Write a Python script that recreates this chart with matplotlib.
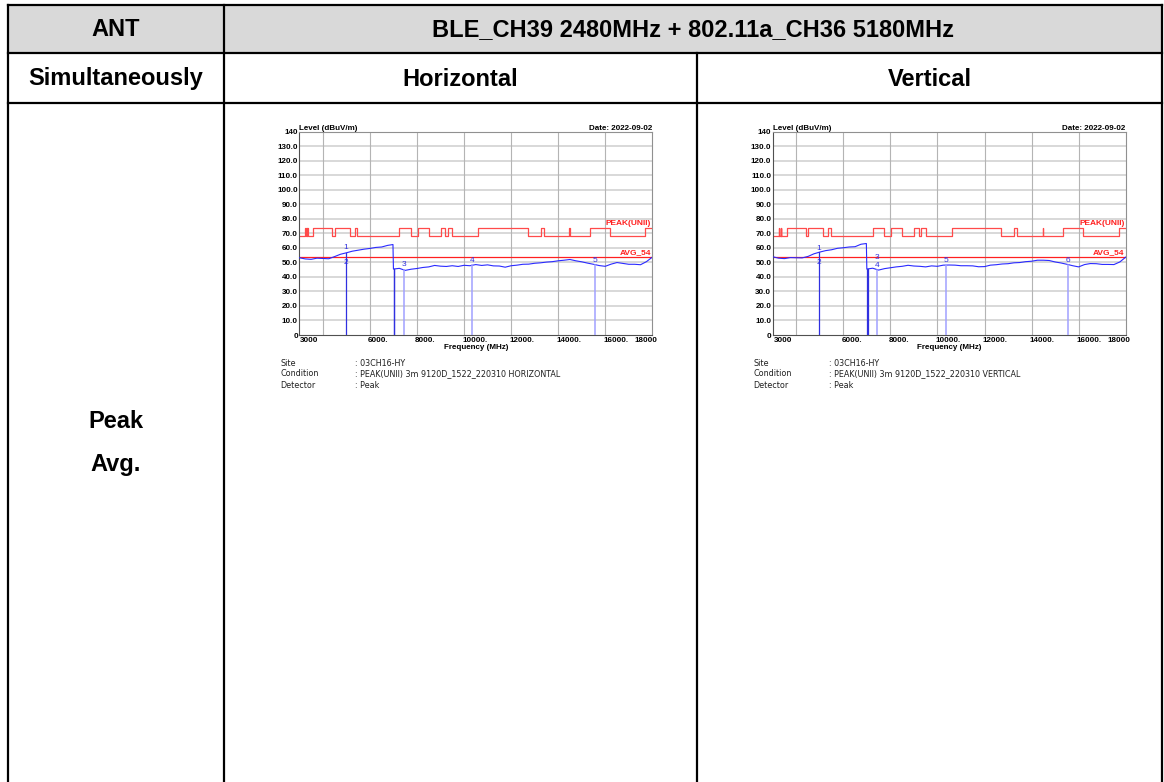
"""
Radiated emission table: BLE CH39 + 802.11a CH36 simultaneous, 3-18 GHz.
"""

import numpy as np
import matplotlib
matplotlib.use("Agg")
import matplotlib.pyplot as plt
from matplotlib import font_manager
from matplotlib.font_manager import FontProperties
from matplotlib.transforms import blended_transform_factory, offset_copy


W, H = 1164, 782

HEADER_LEFT = "ANT"
HEADER_RIGHT = "BLE_CH39 2480MHz + 802.11a_CH36 5180MHz"
ROW2_LABELS = ["Simultaneously", "Horizontal", "Vertical"]
ROW3_LABELS = ["Peak", "Avg."]

# restricted bands (MHz) -> 74 dBuV/m, elsewhere 68.2 dBuV/m
RESTRICTED_BANDS = [
    (3260, 3267), (3332, 3339), (3345.8, 3358.6), (3600, 4400), (4500, 5150),
    (5350, 5460), (7250, 7750), (8025, 8500), (9000, 9200), (9300, 9500),
    (10600, 12700), (13250, 13400), (14470, 14500), (15350, 16200), (17700, 21400),
]
PEAK_LOW = 68.2
PEAK_HIGH = 74.0
AVG_LIMIT = 54.0

X_TICKS = [3000, 6000, 8000, 10000, 12000, 14000, 16000, 18000]
X_TICK_LABELS = ["3000", "6000.", "8000.", "10000.", "12000.", "14000.", "16000.", "18000"]
X_GRID = [4000, 6000, 8000, 10000, 12000, 14000, 16000]
Y_TICKS = list(range(0, 141, 10))
Y_TICK_LABELS = ["0"] + [f"{v:.1f}" for v in range(10, 140, 10)] + ["140"]

FREQ = list(range(3000, 6751, 250)) + [6980] + list(range(7000, 18001, 250))

H_LEVEL = [
    53.2, 52.4, 52.1, 52.9, 52.7, 52.5, 54.0, 55.6, 56.6, 57.7, 58.4, 59.1,
    59.6, 60.3, 60.6, 61.7, 62.3,
    45.4, 45.9, 44.5, 45.3, 45.8, 46.5, 46.9, 47.9, 47.4, 47.2, 47.7, 47.2,
    48.0, 47.7, 48.5, 47.9, 48.3, 47.6, 47.5, 46.7, 47.7, 48.1, 48.7, 48.8,
    49.4, 49.7, 50.2, 50.5, 51.1, 51.5, 52.0, 51.1, 50.4, 49.5, 48.7, 47.8,
    47.3, 48.8, 49.9, 49.3, 48.7, 48.7, 48.4, 50.5, 53.6,
]
V_LEVEL = [
    53.9, 52.9, 52.6, 53.3, 53.2, 53.1, 54.1, 55.9, 57.1, 58.1, 58.7, 59.7,
    60.1, 60.6, 60.8, 62.5, 63.0,
    45.4, 46.0, 44.7, 45.7, 46.3, 46.9, 47.3, 48.0, 47.5, 47.3, 46.9, 47.6,
    47.3, 48.1, 48.2, 48.1, 47.7, 47.7, 47.6, 47.0, 47.1, 48.1, 48.4, 48.9,
    49.1, 49.7, 49.9, 50.5, 50.8, 51.5, 51.5, 51.3, 50.3, 49.6, 48.7, 47.7,
    46.9, 48.5, 49.2, 49.1, 48.6, 48.6, 48.5, 50.3, 53.6,
]

# marker frequencies: peak-detector (dark) and average-detector (light)
H_MARK_PEAK = [4967, 7005, 7030]
H_MARK_AVG = [7444, 10358, 15550]
H_MARK_TEXT = ["1", "2", "3", "4", "5"]
H_MARK_TEXT_FREQ = [4967, 4967, 7444, 10358, 15550]
H_MARK_TEXT_LEVEL = [60.4, 50.0, 48.3, 51.0, 51.0]

V_MARK_PEAK = [4958, 7002, 7044]
V_MARK_AVG = [7441, 10379, 15558]
V_MARK_TEXT = ["1", "2", "3", "4", "5", "6"]
V_MARK_TEXT_FREQ = [4958, 4958, 7441, 7441, 10379, 15558]
V_MARK_TEXT_LEVEL = [59.4, 50.0, 53.5, 47.8, 51.6, 51.0]

DATE = "Date: 2022-09-02"
SITE = "03CH16-HY"
H_CONDITION = "PEAK(UNII) 3m 9120D_1522_220310 HORIZONTAL"
V_CONDITION = "PEAK(UNII) 3m 9120D_1522_220310 VERTICAL"
DETECTOR = "Peak"


def pick_font(names, weight):
    # look the face up by exact family name so "Liberation Sans" never
    # resolves to the narrow variant
    for name in names:
        for entry in font_manager.fontManager.ttflist:
            if entry.name == name and entry.weight in (weight, "bold" if weight == 700 else weight) \
                    and entry.style == "normal":
                return FontProperties(fname=entry.fname)
    return FontProperties(family="DejaVu Sans", weight=weight)


TABLE_FONT = pick_font(["Liberation Sans", "Arimo"], 700)
CHART_FONT = pick_font(["Liberation Sans Narrow", "Liberation Sans"], 700)
CHART_FONT_REG = pick_font(["Liberation Sans Narrow", "Liberation Sans"], 400)


def peak_limit_curve():
    xs, ys = [3000], [PEAK_LOW]
    for lo, hi in RESTRICTED_BANDS:
        lo, hi = max(lo, 3000), min(hi, 18000)
        xs += [lo, lo, hi, hi]
        ys += [PEAK_LOW, PEAK_HIGH, PEAK_HIGH, PEAK_LOW if hi < 18000 else PEAK_HIGH]
    if xs[-1] < 18000:
        xs.append(18000)
        ys.append(ys[-1])
    return xs, ys


def fp(base, size):
    f = base.copy()
    f.set_size(size)
    return f


def draw_table(fig):
    ax = fig.add_axes([0, 0, 1, 1], zorder=0)
    ax.set_xlim(0, W)
    ax.set_ylim(H, 0)
    ax.axis("off")

    left, right, top = 8, 1162, 5
    col1, col2 = 224, 697
    row1, row2 = 53, 103
    ax.fill_between([left, right], top, row1, color="#d9d9d9", lw=0)
    lw = 1.6
    ax.plot([left, right], [top, top], color="black", lw=lw)
    ax.plot([left, right], [row1, row1], color="black", lw=lw)
    ax.plot([left, right], [row2, row2], color="black", lw=lw)
    ax.plot([left, left], [top, H], color="black", lw=lw)
    ax.plot([right, right], [top, H], color="black", lw=lw)
    ax.plot([col1, col1], [top, H], color="black", lw=lw)
    ax.plot([col2, col2], [row1, H], color="black", lw=lw)

    style = dict(fontproperties=fp(TABLE_FONT, 17), ha="center", va="center")
    ax.text((left + col1) / 2, 30, HEADER_LEFT, **style)
    ax.text((col1 + right) / 2, 30, HEADER_RIGHT, **style)
    centers = [(left + col1) / 2, (col1 + col2) / 2, (col2 + right) / 2]
    for cx, label in zip(centers, ROW2_LABELS):
        ax.text(cx, 79, label, **style)
    ax.text(centers[0], 421, ROW3_LABELS[0], **style)
    ax.text(centers[0], 465, ROW3_LABELS[1], **style)


def draw_chart(fig, x0, level, mark_peak, mark_avg, texts, text_freq, text_level,
               condition):
    x1 = x0 + 353
    y_top, y_bot = 131.7, 335
    ax = fig.add_axes([x0 / W, 1 - y_bot / H, (x1 - x0) / W, (y_bot - y_top) / H],
                      zorder=2)
    ax.set_xlim(3000, 18000)
    ax.set_ylim(0, 140)

    for g in Y_TICKS[1:-1]:
        ax.axhline(g, color="#d6d6d6", lw=1.3, zorder=0)
    for g in X_GRID:
        ax.axvline(g, color="#b4b4b4", lw=0.8, zorder=0)
    for sp in ax.spines.values():
        sp.set_color("#909090")
        sp.set_linewidth(0.8)
    ax.spines["left"].set_color("#505050")
    ax.spines["bottom"].set_color("#505050")

    fx, fy = peak_limit_curve()
    ax.plot(fx, fy, color="#ff4a4a", lw=0.9, zorder=2)
    ax.axhline(AVG_LIMIT, color="#ff2020", lw=0.9, zorder=2)

    ax.plot(FREQ, level, color="#2a2aff", lw=0.8, zorder=3)
    for f in mark_peak:
        ax.plot([f, f], [0, np.interp(f, FREQ, level)], color="#3030e0", lw=0.9, zorder=3)
    for f in mark_avg:
        ax.plot([f, f], [0, np.interp(f, FREQ, level)], color="#a0a0ff", lw=1.1, zorder=3)
    for t, f, v in zip(texts, text_freq, text_level):
        ax.text(f, v, t, color="#3030e0", fontproperties=fp(CHART_FONT_REG, 6),
                ha="center", va="center", zorder=4)

    bold = fp(CHART_FONT, 5.8)
    red = dict(color="#ff2020", fontproperties=fp(CHART_FONT, 6), ha="right", va="bottom")
    ax.text(17950, PEAK_HIGH + 0.5, "PEAK(UNII)", **red)
    ax.text(17950, AVG_LIMIT + 0.5, "AVG_54", **red)

    ax.set_yticks(Y_TICKS)
    ax.set_yticklabels(Y_TICK_LABELS, fontproperties=bold)
    ax.set_xticks([])
    ax.tick_params(axis="y", length=0, pad=1)

    trans = blended_transform_factory(ax.transData, ax.transAxes)
    for pos, lab in zip(X_TICKS, X_TICK_LABELS):
        if pos == 3000:
            ha, dx = "left", 1
        elif pos == 18000:
            ha, dx = "right", 5
        else:
            ha, dx = "left", -2
        ax.text(pos, -0.008, lab, transform=offset_copy(trans, fig, x=dx, units="dots"),
                ha=ha, va="top", fontproperties=bold)
    ax.text(0.5, -0.045, "Frequency (MHz)", transform=ax.transAxes, ha="center",
            va="top", fontproperties=bold)
    ax.text(0.0, 1.0, "Level (dBuV/m)", transform=ax.transAxes, ha="left",
            va="bottom", fontproperties=bold)
    ax.text(1.0, 1.0, DATE, transform=ax.transAxes, ha="right",
            va="bottom", fontproperties=bold)

    foot = dict(fontsize=5.8, family=["DejaVu Sans"], va="center", color="#202020")
    for i, (key, val) in enumerate([("Site", SITE), ("Condition", condition),
                                    ("Detector", DETECTOR)]):
        y = 1 - (363 + 11 * i) / H
        fig.text((x0 - 19) / W, y, key, **foot)
        fig.text((x0 + 56) / W, y, ": " + val, **foot)


def main():
    fig = plt.figure(figsize=(W / 100, H / 100), dpi=100)
    draw_table(fig)
    draw_chart(fig, 299.3, H_LEVEL, H_MARK_PEAK, H_MARK_AVG, H_MARK_TEXT,
               H_MARK_TEXT_FREQ, H_MARK_TEXT_LEVEL, H_CONDITION)
    draw_chart(fig, 772.7, V_LEVEL, V_MARK_PEAK, V_MARK_AVG, V_MARK_TEXT,
               V_MARK_TEXT_FREQ, V_MARK_TEXT_LEVEL, V_CONDITION)
    fig.savefig("out.png", dpi=100)


if __name__ == "__main__":
    main()
